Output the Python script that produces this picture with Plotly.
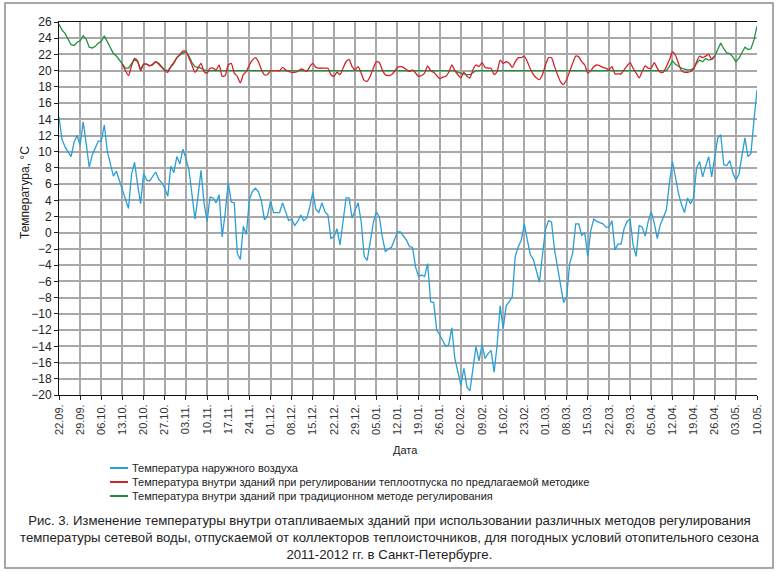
import pandas as pd
import plotly.graph_objects as go

# ---------------- data ----------------
dates = pd.date_range("2011-09-22", "2012-05-10", freq="D")

outdoor = [
    14.3, 11.5, 10.6, 10.0, 9.4, 11.2, 12.0, 10.8, 13.7, 11.0,
    8.1, 9.6, 10.5, 11.3, 11.3, 13.3, 10.0, 8.5, 7.0, 7.6,
    6.4, 5.2, 4.0, 3.0, 7.2, 8.7, 6.0, 3.6, 7.3, 6.5,
    6.4, 7.0, 7.5, 6.6, 6.2, 5.5, 4.5, 8.2, 7.4, 9.4,
    8.5, 10.3, 9.2, 7.8, 4.5, 1.7, 4.5, 7.7, 3.7, 1.4,
    4.4, 4.3, 3.7, 4.7, -0.5, 2.4, 6.2, 3.8, 3.7, -2.5,
    -3.3, 0.8, -0.2, 4.1, 5.1, 5.5, 5.1, 3.9, 1.6, 2.1,
    3.9, 2.5, 2.5, 2.5, 3.7, 2.6, 1.5, 1.7, 0.9, 1.4,
    2.2, 1.5, 1.8, 3.2, 5.0, 2.9, 2.5, 3.7, 2.6, 2.2,
    -0.7, -0.5, 0.5, -1.5, 1.2, 4.3, 4.3, 1.8, 2.8, 3.7,
    1.4, -2.9, -3.4, -1.3, 1.2, 2.6, 2.0, -0.5, -2.3, -2.0,
    -1.8, -0.9, 0.1, 0.1, -0.4, -0.9, -1.7, -1.8, -4.2, -5.4,
    -5.2, -5.4, -3.8, -8.5, -8.6, -12.0, -12.6, -13.4, -14.0, -13.8,
    -11.7, -15.5, -17.3, -18.8, -16.7, -19.0, -19.5, -16.5, -14.0, -15.8,
    -13.8, -15.5, -14.9, -14.5, -17.2, -13.8, -9.0, -11.8, -9.0, -8.5,
    -7.9, -2.9, -1.7, -0.9, 1.1, -0.9, -2.7, -3.3, -4.6, -6.1,
    -2.7, 0.4, 1.5, 1.3, -2.1, -4.4, -6.6, -8.6, -7.9, -3.8,
    -2.5, 1.1, 1.1, -0.3, 0.0, -2.9, 0.3, 1.7, 1.4, 1.2,
    1.1, 0.7, 0.7, 1.5, -2.1, -1.4, -1.4, 0.5, 1.4, 1.7,
    -1.5, -2.9, 0.9, 0.7, -0.4, 1.4, 2.6, 1.2, -0.7, 1.0,
    2.0, 2.8, 6.1, 8.8, 6.9, 4.9, 3.5, 2.5, 4.3, 3.6,
    4.3, 8.0, 8.8, 6.9, 8.2, 9.4, 6.9, 9.6, 11.7, 12.1,
    8.4, 8.3, 8.9, 7.4, 6.5, 7.2, 9.4, 11.7, 9.4, 9.8,
    13.9, 17.6,
]

# proposed method: shown from 13.10 to 03.05
red_start = "2011-10-13"
indoor_proposed = [
    20.8, 20.0, 19.4, 20.6, 21.5, 21.2, 20.0, 20.8, 20.8, 20.6,
    20.8, 21.1, 20.8, 20.4, 20.0, 19.8, 20.5, 21.0, 21.6, 22.0,
    22.4, 22.4, 21.6, 20.7, 19.8, 20.3, 20.9, 19.9, 19.7, 20.3,
    20.3, 20.1, 20.7, 19.3, 19.4, 20.7, 20.9, 19.7, 19.3, 18.5,
    19.5, 19.9, 20.7, 21.3, 21.6, 21.1, 20.1, 19.5, 19.5, 20.0,
    20.0, 20.0, 20.0, 20.4, 20.1, 19.9, 19.8, 19.8, 19.9, 20.2,
    20.1, 19.9, 20.5, 20.9, 20.4, 20.3, 20.3, 20.3, 20.3, 19.5,
    19.3, 19.8, 19.5, 20.3, 21.1, 21.4, 20.5, 20.1, 20.5, 19.7,
    18.8, 18.7, 19.3, 20.3, 21.1, 21.0, 20.1, 19.5, 19.4, 19.5,
    19.9, 20.4, 20.5, 20.4, 20.1, 19.9, 20.1, 19.7, 19.3, 19.4,
    19.7, 20.6, 20.0, 19.8, 19.4, 19.0, 19.2, 19.3, 19.8, 20.7,
    20.0, 19.5, 19.1, 19.8, 19.3, 19.1, 20.1, 20.7, 20.5, 21.0,
    20.4, 20.3, 20.3, 19.5, 19.9, 21.3, 20.9, 21.1, 20.9, 20.4,
    21.1, 21.6, 21.6, 21.8, 21.1, 20.2, 19.5, 19.1, 18.9, 19.5,
    20.7, 21.6, 21.6, 20.5, 19.5, 18.6, 18.3, 18.9, 19.9, 20.9,
    21.8, 21.7, 21.1, 20.7, 19.7, 20.0, 20.5, 20.7, 20.6, 20.4,
    20.3, 20.1, 20.5, 19.6, 19.6, 19.6, 20.1, 20.6, 21.0, 20.3,
    19.7, 19.1, 19.9, 20.6, 20.3, 20.3, 21.0, 20.3, 19.8, 19.8,
    20.5, 21.3, 22.3, 21.9, 20.9, 20.0, 19.8, 19.8, 19.9, 20.2,
    21.1, 21.8, 21.6, 21.8, 22.0, 21.4, 21.8,
]

indoor_traditional = [
    25.7, 25.0, 24.6, 23.8, 23.2, 23.1, 23.5, 23.7, 24.3, 23.9,
    22.9, 22.8, 23.0, 23.4, 23.6, 24.3, 23.6, 22.8, 22.1, 21.8,
    21.3, 20.8, 20.3, 20.3, 20.9, 21.4, 21.1, 20.2, 20.8, 20.8,
    20.6, 20.7, 21.1, 20.9, 20.5, 20.1, 20.0, 20.5, 20.9, 21.6,
    21.9, 22.2, 22.3, 21.8, 21.0, 20.5, 20.4, 20.3, 20.1, 20.0,
    20.0, 20.0, 20.0, 20.0, 20.0, 20.0, 20.0, 20.0, 20.0, 20.0,
    20.0, 20.0, 20.0, 20.0, 20.0, 20.0, 20.0, 20.0, 20.0, 20.0,
    20.0, 20.0, 20.0, 20.0, 20.0, 20.0, 20.0, 20.0, 20.0, 20.0,
    20.0, 20.0, 20.0, 20.0, 20.0, 20.0, 20.0, 20.0, 20.0, 20.0,
    20.0, 20.0, 20.0, 20.0, 20.0, 20.0, 20.0, 20.0, 20.0, 20.0,
    20.0, 20.0, 20.0, 20.0, 20.0, 20.0, 20.0, 20.0, 20.0, 20.0,
    20.0, 20.0, 20.0, 20.0, 20.0, 20.0, 20.0, 20.0, 20.0, 20.0,
    20.0, 20.0, 20.0, 20.0, 20.0, 20.0, 20.0, 20.0, 20.0, 20.0,
    20.0, 20.0, 19.8, 19.7, 19.6, 19.5, 19.5, 19.7, 20.0, 20.0,
    20.0, 20.0, 20.0, 20.0, 20.0, 20.0, 20.0, 20.0, 20.0, 20.0,
    20.0, 20.0, 20.0, 20.0, 20.0, 20.0, 20.0, 20.0, 20.0, 20.0,
    20.0, 20.0, 20.0, 20.0, 20.0, 20.0, 20.0, 20.0, 20.0, 20.0,
    20.0, 20.0, 20.0, 20.0, 20.0, 20.0, 20.0, 20.0, 20.0, 20.0,
    20.0, 20.0, 20.0, 20.0, 20.0, 20.0, 20.0, 20.0, 20.0, 20.0,
    20.0, 20.0, 20.0, 20.0, 20.0, 20.0, 20.0, 20.0, 20.0, 20.0,
    20.0, 20.0, 20.5, 21.2, 20.8, 20.5, 20.3, 20.2, 20.1, 20.1,
    20.3, 20.9, 21.3, 21.1, 21.5, 21.3, 21.4, 21.8, 22.7, 23.4,
    22.7, 22.2, 22.1, 21.7, 21.1, 21.5, 22.2, 22.9, 22.6, 22.7,
    23.8, 25.5,
]

series_names = [
    "Температура наружного воздуха",
    "Температура внутри зданий при регулировании теплоотпуска по предлагаемой методике",
    "Температура внутри зданий при традиционном методе регулирования",
]
y_title = "Температура, °С"
x_title = "Дата"
caption = ("Рис. 3. Изменение температуры внутри отапливаемых зданий при использовании различных методов регулирования<br>"
           "температуры сетевой воды, отпускаемой от коллекторов теплоисточников, для погодных условий отопительного сезона<br>"
           "2011-2012 гг. в Санкт-Петербурге.")

# ---------------- figure ----------------
BLUE, RED, GREEN = "#2a9fd6", "#d3222a", "#22903e"
W, H = 779, 572
L, R, T, B = 59, 22, 22, 177
pw, ph = W - L - R, H - T - B

def px(x):
    return (x - L) / pw

def py(y):
    return (H - B - y) / ph

red_idx = list(dates).index(pd.Timestamp(red_start))
red_dates = dates[red_idx:red_idx + len(indoor_proposed)]

fig = go.Figure()
fig.add_trace(go.Scatter(x=dates, y=outdoor, mode="lines", name=series_names[0],
                         line=dict(color=BLUE, width=1.3)))
fig.add_trace(go.Scatter(x=dates, y=indoor_traditional, mode="lines", name=series_names[2],
                         line=dict(color=GREEN, width=1.3)))
fig.add_trace(go.Scatter(x=red_dates, y=indoor_proposed, mode="lines", name=series_names[1],
                         line=dict(color=RED, width=1.3, shape="spline", smoothing=0.6)))

grid = "#a8a8a8"
fig.update_layout(
    width=W, height=H, margin=dict(l=L, r=R, t=T, b=B),
    paper_bgcolor="white", plot_bgcolor="white", showlegend=False,
    font=dict(family="Liberation Sans, Arial, sans-serif", color="#222"),
    xaxis=dict(type="date", range=[dates[0], dates[-1]], tick0=dates[0],
               dtick=7 * 86400000, tickformat="%d.%m.", tickangle=-90,
               ticks="outside", ticklen=4, tickcolor="#222", tickwidth=1,
               showline=True, linecolor="#111", linewidth=1, mirror=True,
               showgrid=True, gridcolor=grid, gridwidth=1.5,
               tickfont=dict(size=11, color="#333")),
    yaxis=dict(range=[-20, 26], tick0=0, dtick=2, ticks="outside", ticklen=4,
               tickcolor="#222", showline=True, linecolor="#111", linewidth=1,
               showgrid=True, gridcolor=grid, gridwidth=1.5, zeroline=False,
               tickfont=dict(size=12, color="#222")),
)

shapes = [dict(type="rect", xref="paper", yref="paper",
               x0=px(5), x1=px(773), y0=py(568), y1=py(3),
               line=dict(color="#8a8a8a", width=1.5), layer="below")]
annotations = [
    dict(text=y_title, xref="paper", yref="paper", x=px(25), y=py(193),
         textangle=-90, showarrow=False, font=dict(size=12, color="#222"),
         xanchor="center", yanchor="middle"),
    dict(text=x_title, xref="paper", yref="paper", x=px(405), y=py(450),
         showarrow=False, font=dict(size=11, color="#222"),
         xanchor="center", yanchor="middle"),
    dict(text=caption, xref="paper", yref="paper", x=px(389), y=py(537),
         showarrow=False, align="center",
         font=dict(size=13.2, color="#222", family="Liberation Sans, Arial"),
         xanchor="center", yanchor="middle"),
]
legend_colors = [BLUE, RED, GREEN]
for i, (nm, col) in enumerate(zip(series_names, legend_colors)):
    yy = 468 + 14 * i
    shapes.append(dict(type="line", xref="paper", yref="paper",
                       x0=px(110), x1=px(128), y0=py(yy), y1=py(yy),
                       line=dict(color=col, width=2)))
    annotations.append(dict(text=nm, xref="paper", yref="paper", x=px(130), y=py(yy),
                            showarrow=False, xanchor="left", yanchor="middle",
                            font=dict(size=11, color="#222")))
fig.update_layout(shapes=shapes, annotations=annotations)

fig.write_html("out.html", config={"displayModeBar": False},
               post_script="document.body.style.margin='0';document.body.style.padding='0';")
